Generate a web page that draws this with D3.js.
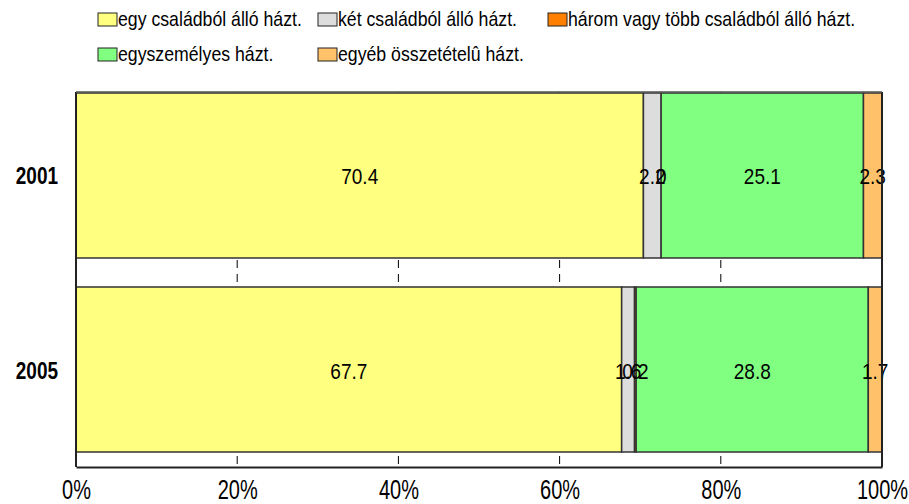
<!DOCTYPE html>
<html><head><meta charset="utf-8">
<script src="https://cdn.jsdelivr.net/npm/d3@7"></script>
<style>body{margin:0;background:#fff}text{font-family:"Liberation Sans",Arial,sans-serif}</style>
</head><body>
<svg id="c" width="909" height="504"></svg>
<script>
const categories = ["2001", "2005"];
const seriesNames = ["egy családból álló házt.", "két családból álló házt.", "három vagy több családból álló házt.", "egyszemélyes házt.", "egyéb összetételû házt."];
const seriesColors = ["#FFFF80", "#DDDDDD", "#FF8000", "#80FF80", "#FFC26A"];
const egyCsalad = [70.4, 67.7];
const ketCsalad = [2.2, 1.6];
const haromCsalad = [0, 0.2];
const egyszemelyes = [25.1, 28.8];
const egyeb = [2.3, 1.7];
const tickValues = [0, 20, 40, 60, 80, 100];
const seriesValues = [egyCsalad, ketCsalad, haromCsalad, egyszemelyes, egyeb];

const svg = d3.select("#c");
const x = d3.scaleLinear().domain([0, 100]).range([76, 882]);
const y = d3.scaleBand().domain(categories).range([93, 452]).paddingInner(0.1495).paddingOuter(0);
const bottomY = 467, topY = 92;

// dashed gridlines behind bars
svg.append("g").selectAll("line").data(tickValues.slice(1, -1)).join("line")
  .attr("x1", d => x(d)).attr("x2", d => x(d)).attr("y1", topY).attr("y2", bottomY)
  .attr("stroke", "#000").attr("stroke-width", 1).attr("stroke-dasharray", "8,6");

const stacked = categories.map((c, i) => {
  let acc = 0;
  return seriesValues.map((s, j) => { const r = {cat: c, j, v: s[i], x0: acc, x1: acc + s[i]}; acc += s[i]; return r; });
});
const all = stacked.flat();
svg.append("g").selectAll("rect").data(all).join("rect")
  .attr("x", d => x(d.x0)).attr("width", d => x(d.x1) - x(d.x0))
  .attr("y", d => y(d.cat)).attr("height", y.bandwidth())
  .attr("fill", d => seriesColors[d.j]).attr("stroke", "#333").attr("stroke-width", 1.5);

svg.append("g").selectAll("text").data(all).join("text")
  .attr("transform", d => `translate(${(x(d.x0) + x(d.x1)) / 2},${y(d.cat) + y.bandwidth() / 2 + 9}) scale(1,1.2)`)
  .attr("text-anchor", "middle").attr("font-size", 19).attr("fill", "#000")
  .text(d => d.v === 0 ? "0" : d.v.toFixed(1));

// plot frame
svg.append("line").attr("x1", 76).attr("x2", 76).attr("y1", topY).attr("y2", bottomY).attr("stroke", "#222").attr("stroke-width", 2);
svg.append("line").attr("x1", 882).attr("x2", 882).attr("y1", topY).attr("y2", bottomY).attr("stroke", "#222").attr("stroke-width", 2);
svg.append("line").attr("x1", 76).attr("x2", 882).attr("y1", topY).attr("y2", topY).attr("stroke", "#555").attr("stroke-width", 1.5);

const xAxis = d3.axisBottom(x).tickValues(tickValues).tickFormat(d => d + "%").tickSize(0).tickPadding(0);
const gx = svg.append("g").attr("transform", `translate(0,${bottomY})`).call(xAxis);
gx.select(".domain").attr("stroke", "#222").attr("stroke-width", 2);
gx.selectAll("text").attr("y", null).attr("dy", null)
  .attr("transform", "translate(0,32) scale(1,1.35)")
  .attr("font-size", 20).attr("font-family", "Liberation Sans, Arial, sans-serif").attr("fill", "#000");

svg.append("g").selectAll("text").data(categories).join("text")
  .attr("transform", d => `translate(58,${y(d) + y.bandwidth() / 2 + 9}) scale(1,1.3)`)
  .attr("text-anchor", "end").attr("font-size", 19).attr("font-weight", "bold").text(d => d);

// legend
const legPos = [[98, 20], [318, 20], [548, 20], [98, 55], [318, 55]];
const lg = svg.append("g").selectAll("g").data(seriesNames).join("g")
  .attr("transform", (d, i) => `translate(${legPos[i][0]},${legPos[i][1]})`);
lg.append("rect").attr("x", 0).attr("y", -7).attr("width", 19).attr("height", 13)
  .attr("fill", (d, i) => seriesColors[i]).attr("stroke", "#222").attr("stroke-width", 1);
lg.append("text").attr("transform", "translate(20,6) scale(1,1.1)").attr("font-size", 17.7).text(d => d);
</script>
</body></html>
